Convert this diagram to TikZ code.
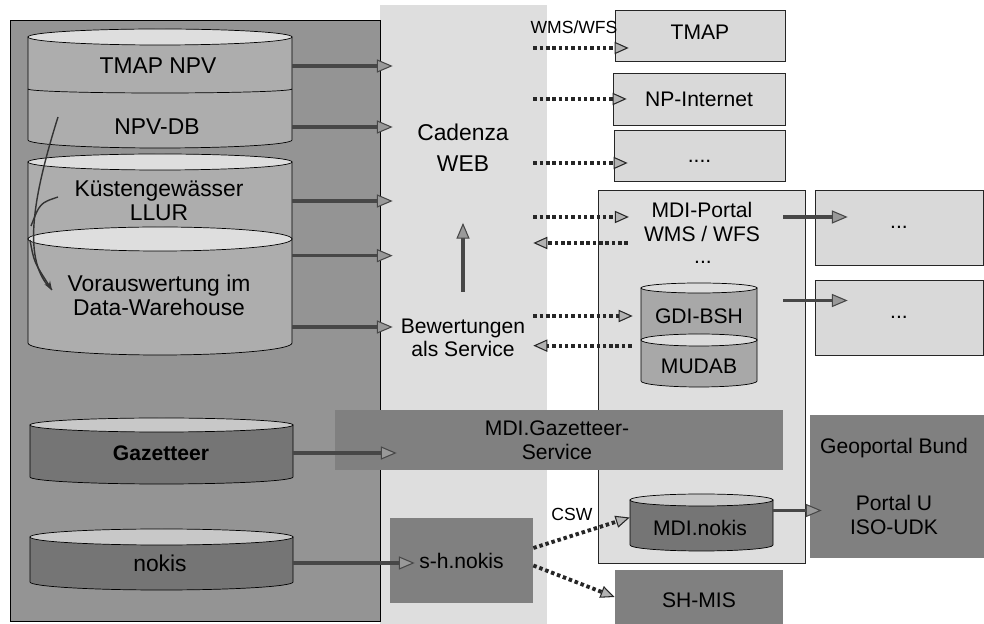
\documentclass[tikz,border=0pt]{standalone}
\usepackage{fontspec}
\setmainfont{Liberation Sans}
\usetikzlibrary{arrows.meta,fit}

\definecolor{panelgray}{gray}{0.58}
\definecolor{colgray}{gray}{0.87}
\definecolor{boxlight}{gray}{0.85}
\definecolor{portalgray}{gray}{0.87}
\definecolor{boxdark}{gray}{0.50}
\definecolor{drumlight}{gray}{0.68}
\definecolor{drummid}{gray}{0.66}
\definecolor{drumdark}{gray}{0.46}

% drum: name, left x, right x, top y, bottom y, y radius, body colour
\newcommand{\drum}[7]{%
    \pgfmathsetmacro{\drx}{(#3-#2)/2}
    \filldraw[fill=#7] (#2,#4) -- (#2,#5) arc[start angle=180, end angle=360, x radius=\drx, y radius=#6] -- (#3,#4) -- cycle;
    \filldraw[fill=#7!40!white] ({(#2+#3)/2},#4) ellipse[x radius=\drx, y radius=#6];
    \node[fit={(#2,#4) (#3,#5)}, inner sep=0pt] (#1) {};
}

\tikzset{
    solidarrow/.style={draw=black!72, line width=2pt,
        -{Triangle[length=9pt, width=7.5pt, line width=0.6pt, fill=black!40]}},
    dotarrow/.style={draw=black!85, line width=2.2pt, dash pattern=on 2pt off 1.6pt,
        -{Triangle[length=8pt, width=7pt, line width=0.6pt, fill=black!30]}},
    lightbox/.style={draw=black!85, fill=boxlight, inner sep=0pt},
    darkbox/.style={fill=boxdark, inner sep=0pt},
    big/.style={font=\fontsize{13}{13.6}\selectfont},
    mid/.style={font=\fontsize{12}{13.4}\selectfont},
    small/.style={font=\fontsize{10}{12}\selectfont},
}

\begin{document}
\begin{tikzpicture}[x=0.02cm, y=0.02cm]
    \useasboundingbox (0,0) rectangle (984,-624);
    % background areas
    \fill[colgray] (380,-5) rectangle (547,-624);
    \filldraw[fill=panelgray] (10,-20) rectangle (380,-621);

    % databases on the left
    \drum{cylA}{28}{292}{-37}{-140}{8}{drumlight}
    \draw (28,-89) arc[start angle=180, end angle=360, x radius=132, y radius=4];
    \drum{cylB1}{28}{292}{-162}{-239}{8}{drumlight}
    \drum{cylB2}{28}{292}{-239}{-343}{12}{drumlight}
    \drum{cylG}{30}{293}{-425}{-477}{7}{drumdark}
    \drum{cylN}{30}{293}{-537}{-582}{8}{drumdark}

    \node[big] (tmapnpv) at (158,-66) {TMAP NPV};
    \node[big] (npvdb) at (157,-127) {NPV-DB};
    \node[big, align=center] (kuest) at (159,-201) {Küstengewässer\\LLUR};
    \node[big, align=center] (vor) at (159,-295) {Vorauswertung im\\Data-Warehouse};
    \node[font=\fontsize{12}{14}\selectfont\bfseries] (gaz) at (161,-453) {Gazetteer};
    \node[big] (nokis) at (160,-563) {nokis};

    \draw[black!80, line width=0.8pt] (58,-117) .. controls (32,-200) and (22,-262) .. (52,-290);
    \draw[black!80, line width=0.8pt, -{Stealth[length=5pt]}] (30,-240) .. controls (34,-262) .. (52,-290);
    \draw[black!80, line width=0.8pt] (58,-197) .. controls (40,-203) .. (31,-226);

    % centre column
    \node[big, align=center, minimum width=2.8cm] (cad) at (463,-148) {Cadenza\\[4pt]WEB};
    \node[mid, align=center, minimum width=2.8cm] (bew) at (463,-338) {Bewertungen\\als Service};

    % boxes on the right
    \node[lightbox, fit={(615,-10) (785,-61)}] (tmap) {};
    \node[mid] (tmaptx) at ([yshift=0.06cm]tmap.center) {TMAP};
    \node[lightbox, fit={(613,-73) (785,-125)}] (np) {};
    \node[mid] (nptx) at (np.center) {NP-Internet};
    \node[lightbox, fit={(614,-130) (785,-181)}] (dots0) {};
    \node[mid] (dots0tx) at ([yshift=-0.12cm]dots0.center) {....};
    \node[draw=black!85, fill=portalgray, inner sep=0pt, fit={(598,-190) (805,-563)}] (mdibox) {};
    \node[mid, align=center] (mdip) at (702,-222) {MDI-Portal\\WMS / WFS};
    \node[mid] (mdidots) at (703,-262) {...};
    \node[lightbox, fit={(815,-190) (983,-265)}] (dots1) {};
    \node[mid] (dots1tx) at (dots1.center) {...};
    \node[lightbox, fit={(815,-280) (983,-355)}] (dots2) {};
    \node[mid] (dots2tx) at (dots2.center) {...};

    \drum{cylGDI}{641}{757}{-288}{-340}{5}{drummid}
    \drum{cylMU}{641}{757}{-340}{-381}{6}{drummid}
    \node[mid] (gdi) at (699,-316) {GDI-BSH};
    \node[mid] (mudab) at (699,-366) {MUDAB};

    \node[darkbox, fit={(335,-410) (783,-470)}] (gazbar) {};
    \node[mid, align=center] (gazbartx) at ([xshift=-0.04cm]gazbar.center) {MDI.Gazetteer-\\Service};
    \node[darkbox, fit={(810,-415) (984,-558)}] (geo) {};
    \node[mid, align=center] (geotx) at ([xshift=-0.06cm]geo.center) {Geoportal Bund\\[19pt]Portal U\\ISO-UDK};
    \node[darkbox, fit={(390,-518) (533,-603)}] (shn) {};
    \node[mid] (shntx) at (shn.center) {s-h.nokis};
    \node[darkbox, fit={(615,-570) (783,-624)}] (shmis) {};
    \node[mid] (shmistx) at ([yshift=-0.06cm]shmis.center) {SH-MIS};

    \drum{cylMN}{630}{773}{-500}{-545}{6}{drumdark}
    \node[mid] (mdinokis) at (700,-528) {MDI.nokis};

    % solid connectors
    \coordinate (o4) at ([yshift=-0.34cm]cylB2.north east);
    \coordinate (o5) at ([yshift=0.22cm]bew.west);
    \draw[solidarrow] (tmapnpv -| cylA.east) -- (tmapnpv -| cad.west);
    \draw[solidarrow] (npvdb -| cylA.east) -- (npvdb -| cad.west);
    \draw[solidarrow] (kuest -| cylB1.east) -- (kuest -| cad.west);
    \draw[solidarrow] (o4) -- (o4 -| cad.west);
    \draw[solidarrow] (o5 -| cylB2.east) -- (o5);
    \draw[solidarrow, shorten <=0.42cm, shorten >=0.9cm] (bew.north) -- (cad.south);
    \draw[solidarrow, shorten >=-1.24cm] (gaz -| cylG.east) -- (gaz -| gazbar.west);
    \draw[solidarrow, shorten >=-0.5cm] (nokis -| cylN.east) -- (nokis -| shn.west);

    \coordinate (q1) at ([yshift=0.1cm]mdip.center);
    \coordinate (q2) at ([yshift=0.34cm]dots2.west);
    \draw[solidarrow, shorten <=-0.44cm, shorten >=-0.66cm] (q1 -| mdibox.east) -- (q1 -| dots1.west);
    \draw[solidarrow, shorten <=-0.44cm, shorten >=-0.66cm] (q2 -| mdibox.east) -- (q2);
    \coordinate (r1) at ([yshift=0.24cm]cylMN.east);
    \draw[solidarrow, shorten >=-0.24cm] (r1) -- (r1 -| geo.west);

    % dotted connectors
    \coordinate (t1) at ([yshift=-0.25cm]tmap.west);
    \coordinate (t3) at ([yshift=-0.15cm]dots0.west);
    \draw[dotarrow, shorten >=-0.28cm] (t1 -| cad.east) -- node[small, above, yshift=4pt] (wms) {WMS/WFS} (t1);
    \draw[dotarrow, shorten >=-0.28cm] (cad.east |- np.west) -- (np.west);
    \draw[dotarrow, shorten >=-0.28cm] (t3 -| cad.east) -- (t3);

    \coordinate (p1) at ([yshift=0.1cm]mdip.west);
    \coordinate (p2) at ([yshift=-0.42cm]mdip.west);
    \draw[dotarrow, shorten >=0.18cm] (p1 -| cad.east) -- (p1);
    \draw[dotarrow, shorten <=0.2cm] (p2) -- (p2 -| cad.east);

    \coordinate (g2) at ([yshift=-0.12cm]cylMU.north west);
    \draw[dotarrow, shorten >=0.16cm] (bew.east |- gdi) -- (gdi -| cylGDI.west);
    \draw[dotarrow, shorten <=0.18cm] (g2) -- (g2 -| bew.east);

    \draw[dotarrow] ([yshift=0.25cm]shn.east) -- node[small, pos=0.4, above=4pt] (csw) {CSW} ([yshift=0.1cm]cylMN.west);
    \draw[dotarrow] ([yshift=-0.1cm]shn.east) -- (shmis.west);
\end{tikzpicture}
\end{document}
